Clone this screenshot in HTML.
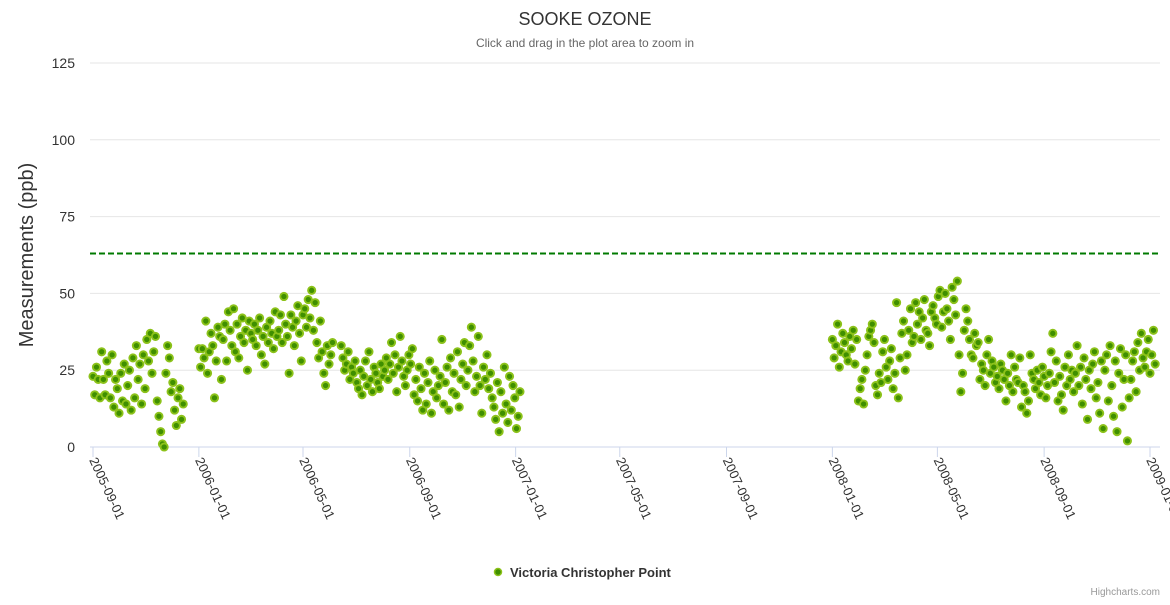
<!DOCTYPE html>
<html><head><meta charset="utf-8"><style>
body{margin:0;background:#fff;font-family:"Liberation Sans",sans-serif}
svg text{font-family:"Liberation Sans",sans-serif}
</style></head><body>
<svg id="chart" width="1170" height="600" xmlns="http://www.w3.org/2000/svg">
<text x="585" y="25" text-anchor="middle" font-size="18" fill="#333">SOOKE OZONE</text>
<text x="585" y="47" text-anchor="middle" font-size="12" fill="#666">Click and drag in the plot area to zoom in</text>
<text transform="translate(33,255) rotate(-90)" text-anchor="middle" font-size="20" fill="#333">Measurements (ppb)</text>
<g id="grid"></g><g id="xaxis"></g>
<line id="thr" x1="90" x2="1160" stroke="#007a00" stroke-width="2" stroke-dasharray="6,3"/>
<g id="points"></g>
<g>
<circle cx="498" cy="572" r="3.5" fill="#3f8f00" stroke="#8cc21a" stroke-width="1.5"/>
<text x="510" y="577" font-size="13" font-weight="bold" fill="#333">Victoria Christopher Point</text>
</g>
<text x="1160" y="595" text-anchor="end" font-size="10" fill="#999">Highcharts.com</text>
</svg>
<script>
const yTicks=[0,25,50,75,100,125];
const xTickLabels=["2005-09-01","2006-01-01","2006-05-01","2006-09-01","2007-01-01","2007-05-01","2007-09-01","2008-01-01","2008-05-01","2008-09-01","2009-01-01"];
const threshold=63;
const seg1Start="2005-09-01";
const seg1Values=[23,17,26,22,16,31,22,17,28,24,16,30,13,22,19,
11,24,15,27,14,20,25,12,29,16,33,22,27,14,30,19,
35,28,37,24,31,36,15,10,5,1,0,24,33,29,18,
21,12,7,16,19,9,14,null,null,null,null,null,null,null,null,32,
26,32,29,41,24,31,37,33,16,28,39,36,22,35,40,28,
44,38,33,45,31,40,29,36,42,34,38,25,41,37,
35,40,33,38,42,30,36,27,39,34,41,37,32,44,36,
38,43,34,49,40,36,24,43,39,33,41,46,37,28,43,
45,39,48,42,51,38,47,34,29,41,31,24,20,33,27,30,
34,null,null,null,null,33,29,25,27,31,22,26,24,28,21,
19,25,17,23,28,20,31,22,18,26,24,21,19,27,23,25,
29,22,27,34,24,30,18,26,36,28,23,20,25,30,27,32,
17,22,15,26,19,12,24,14,21,28,11,18,25,16,20,
23,35,14,21,26,12,29,18,24,17,31,13,22,27,34,20,
25,33,39,28,18,23,36,20,11,26,22,30,19,24,16,
13,9,21,5,18,11,26,14,8,23,12,20,16,6,10,18];
const seg2Start="2008-01-01";
const seg2Values=[35,29,33,40,26,31,37,34,30,28,36,32,38,27,35,15,
19,22,14,25,30,36,38,40,34,20,17,24,21,31,35,
26,22,28,32,19,24,47,16,29,37,41,25,30,38,45,34,
36,47,40,44,35,42,48,38,37,33,44,46,42,40,49,
51,39,44,50,45,41,35,52,48,43,54,30,18,24,38,45,
41,35,30,29,37,33,34,22,27,25,20,30,35,24,28,
26,21,23,19,27,25,22,15,24,20,30,18,26,22,21,29,
13,20,18,11,15,30,24,22,19,25,21,17,26,23,16,20,
24,31,37,21,28,15,23,17,12,26,20,30,22,25,18,
24,33,20,26,14,29,22,9,25,19,27,31,16,21,11,28,
6,25,30,15,33,20,10,28,5,24,32,13,22,30,2,
16,22,28,31,18,34,25,37,29,26,31,35,24,30,38,27];
const NS="http://www.w3.org/2000/svg";
const DAY=86400000;
const t0=Date.parse("2005-09-01"),t1=Date.parse("2009-01-01");
const X=t=>93+(t-t0)/(t1-t0)*(1150-93);
const Y=v=>447-v*(447-63)/125;
function mk(tag,attrs,parent){const e=document.createElementNS(NS,tag);for(const k in attrs)e.setAttribute(k,attrs[k]);parent.appendChild(e);return e;}
const grid=document.getElementById('grid');
yTicks.forEach(v=>{
 const l=mk('line',{x1:90,x2:1160,y1:Y(v),y2:Y(v),stroke:v===0?'#ccd6eb':'#e6e6e6','stroke-width':1},grid);
 
 
 const t=mk('text',{x:75,y:Y(v)+5,'text-anchor':'end','font-size':14,fill:'#333'},grid);
 
 
 t.textContent=v;
});
const xa=document.getElementById('xaxis');
xTickLabels.forEach(s=>{
 const x=X(Date.parse(s));
 const l=mk('line',{x1:x,x2:x,y1:447,y2:457,stroke:'#ccd6eb'},xa);
 
 
 const t=mk('text',{transform:`translate(${x-4},${460}) rotate(65)`,'font-size':13,fill:'#333'},xa);
 
 
 t.textContent=s;
});
const th=document.getElementById('thr');th.setAttribute('y1',Y(threshold));th.setAttribute('y2',Y(threshold));
const pg=document.getElementById('points');
[[seg1Start,seg1Values],[seg2Start,seg2Values]].forEach(([st,vals])=>{
 const s=Date.parse(st);
 vals.forEach((v,i)=>{
  if(v===null)return;
  const c=mk('circle',{cx:X(s+2*i*DAY),cy:Y(v),r:3.6,fill:'#3f8f00',stroke:'#8cc21a','stroke-width':1.9},pg);
  
  
 });
});
</script>
</body></html>
